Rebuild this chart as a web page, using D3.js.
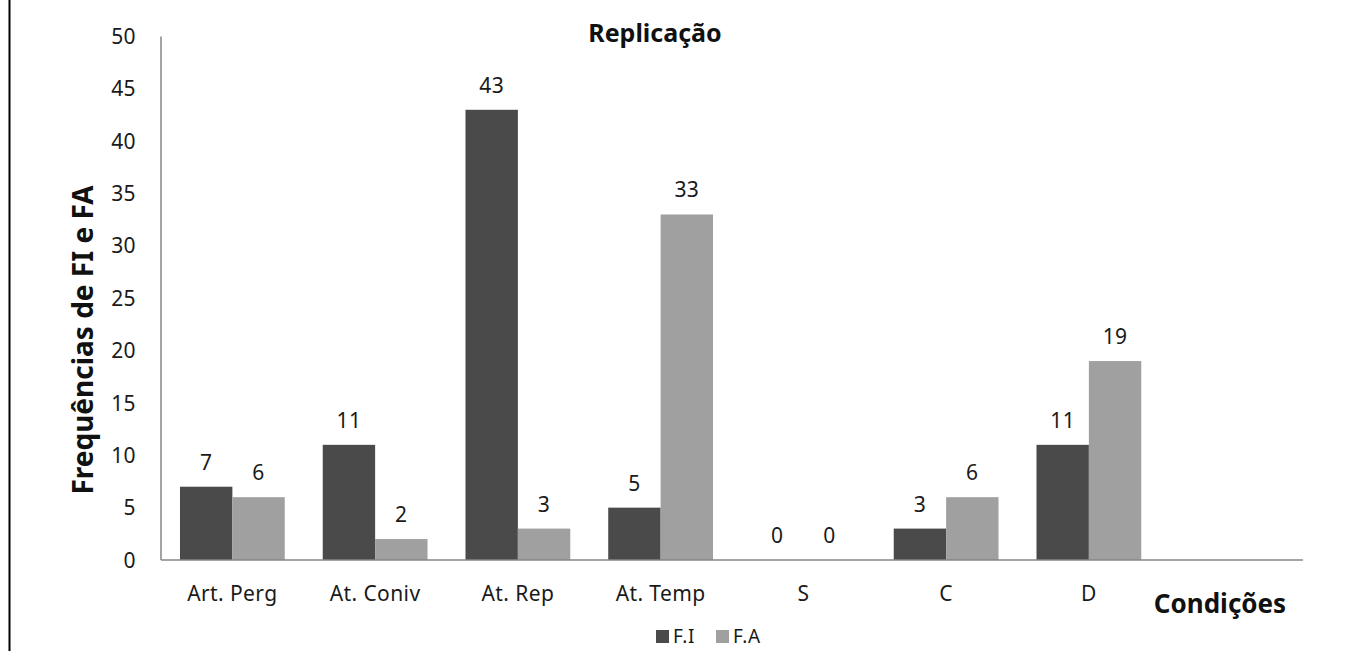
<!DOCTYPE html>
<html><head><meta charset="utf-8">
<script src="https://cdn.jsdelivr.net/npm/d3@7"></script>
<style>body{margin:0;background:#fff;} text{font-family:"Noto Sans",sans-serif;}</style>
</head><body><svg id="c" width="1358" height="651"></svg>
<script>
const categories = ["Art. Perg","At. Coniv","At. Rep","At. Temp","S","C","D"];
const seriesNames = ["F.I","F.A"];
const fiValues = [7,11,43,5,0,3,11];
const faValues = [6,2,3,33,0,6,19];
const yTicks = [0,5,10,15,20,25,30,35,40,45,50];
const colors = ["#4a4a4a","#a0a0a0"];

const svg = d3.select("#c");
svg.append("line").attr("x1",9.5).attr("x2",9.5).attr("y1",0).attr("y2",651).attr("stroke","#000").attr("stroke-width",2);

const pL=161, pR=1303, pT=36.5, pB=560;
const slots = categories.concat([""]);
const x = d3.scaleBand().domain(slots.map((d,i)=>i)).range([pL,pR]).padding(0);
const y = d3.scaleLinear().domain([0,50]).range([pB,pT]);
const bw = x.bandwidth()*0.367;
const fs = 21, ls = 0.4;

svg.append("g").selectAll("text").data(yTicks).join("text")
  .attr("x",136).attr("y",d=>y(d)).attr("dy","0.36em").attr("text-anchor","end")
  .attr("font-size",fs).attr("letter-spacing",ls).attr("fill","#1a1a1a").text(d=>d);

const series=[fiValues,faValues];
series.forEach((vals,s)=>{
  const g=svg.append("g");
  g.selectAll("rect").data(vals).join("rect")
    .attr("x",(d,i)=>x(i)+x.bandwidth()/2-bw+s*bw)
    .attr("width",bw)
    .attr("y",d=>y(d)).attr("height",d=>pB-y(d))
    .attr("fill",colors[s]);
  g.selectAll("text").data(vals).join("text")
    .attr("x",(d,i)=>x(i)+x.bandwidth()/2-bw/2+s*bw)
    .attr("y",d=>y(d)-17)
    .attr("text-anchor","middle").attr("font-size",fs).attr("letter-spacing",ls).attr("fill","#1a1a1a").text(d=>d);
});

svg.append("line").attr("x1",pL).attr("x2",pL).attr("y1",pT).attr("y2",pB).attr("stroke","#868686").attr("stroke-width",1.5);
svg.append("line").attr("x1",pL).attr("x2",pR).attr("y1",pB).attr("y2",pB).attr("stroke","#868686").attr("stroke-width",1.5);

svg.append("g").selectAll("text").data(categories).join("text")
  .attr("x",(d,i)=>x(i)+x.bandwidth()/2).attr("y",601)
  .attr("text-anchor","middle").attr("font-size",fs).attr("letter-spacing",ls).attr("fill","#1a1a1a").text(d=>d);

svg.append("text").attr("x",655).attr("y",42).attr("text-anchor","middle")
  .attr("font-size",25).attr("font-weight","bold").attr("fill","#111").text("Replicação");
svg.append("text").attr("transform","translate(93,340) rotate(-90)").attr("text-anchor","middle")
  .attr("font-size",28).attr("font-weight","bold").attr("fill","#111").text("Frequências de FI e FA");
svg.append("text").attr("x",1220).attr("y",613).attr("text-anchor","middle")
  .attr("font-size",26).attr("font-weight","bold").attr("fill","#111").text("Condições");

const leg=svg.append("g");
const legX=[656,716];
seriesNames.forEach((n,i)=>{
  leg.append("rect").attr("x",legX[i]).attr("y",630).attr("width",13).attr("height",13).attr("fill",colors[i]);
  leg.append("text").attr("x",legX[i]+17).attr("y",643).attr("font-size",19).attr("letter-spacing",0.6).attr("fill","#1a1a1a").text(n);
});
</script></body></html>
